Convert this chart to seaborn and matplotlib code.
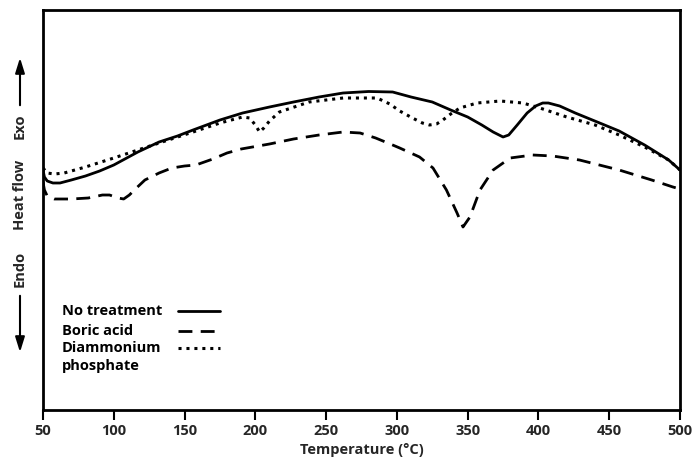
import matplotlib
matplotlib.use("Agg")
import matplotlib.pyplot as plt
import seaborn as sns
import pandas as pd
from matplotlib import font_manager

# ---- data (arbitrary heat-flow units) ----
temp_none = [50, 51, 53, 57, 62, 70, 80, 90, 100, 117, 132, 145, 156, 175, 191, 210, 227, 245, 262, 280,
             297, 310, 325, 338, 350, 360, 368, 375, 379, 385, 392, 398, 403, 407, 415, 426, 445, 457, 475, 492, 500]
flow_none = [240, 233, 229, 227, 227, 230, 234, 239, 245, 258, 268, 274, 280, 290, 297, 303, 308, 313, 317, 318.5,
             318, 313, 308, 300, 293, 285, 278, 273, 275, 285, 297, 304, 307, 307, 304, 297, 286, 279, 265, 250, 240]

temp_boric = [50, 51, 53, 58, 70, 82, 92, 97, 103, 107, 111, 116, 122, 132, 141, 150, 158, 170, 180, 190, 210,
              227, 245, 262, 274, 285, 297, 302, 316, 325.5, 335, 342.5, 346.7, 351.6, 358.7, 368, 380, 396, 410,
              429, 457, 480, 495, 500]
flow_boric = [228, 220, 214, 211, 211, 212, 215, 215, 212, 211, 215, 222, 230, 237, 242, 244, 245, 251, 257, 261, 266,
              271, 275, 278, 277, 272, 265, 262, 253, 242, 220, 197, 183, 193, 220, 240, 252, 255, 254,
              250, 240, 230, 223, 221]

temp_dap = [50, 53, 58, 65, 80, 100, 117, 132, 156, 175, 191, 196, 200, 203, 206, 210, 217, 238, 262, 286, 295,
            302, 311, 318, 323, 328, 332.5, 338, 344.5, 356.6, 373, 389, 401, 420, 440, 457, 475, 492, 500]
flow_dap = [242, 237, 236, 237, 243, 252, 260, 267, 278, 287, 293, 292, 285, 278, 282, 289, 298, 308, 312, 312, 306,
            299, 292, 287, 285, 286, 290, 296, 302, 307, 309, 307, 302, 293, 285, 275, 263, 250, 240]

series_names = ["No treatment", "Boric acid", "Diammonium\nphosphate"]
x_ticks = [50, 100, 150, 200, 250, 300, 350, 400, 450, 500]

sns.set_theme(style="white")
avail = {f.name for f in font_manager.fontManager.ttflist}
fam = "Liberation Sans Narrow" if "Liberation Sans Narrow" in avail else "Open Sans"
plt.rcParams["font.family"] = [fam, "DejaVu Sans"]

fig = plt.figure(figsize=(6.95, 4.76), dpi=100)
ax = fig.add_axes([43 / 695, 66 / 476, 637 / 695, 400 / 476])

styles = [dict(linestyle="-", linewidth=2.0),
          dict(linestyle=(0, (5, 3)), linewidth=2.0),
          dict(linestyle=(0, (1, 1.6)), linewidth=2.2)]
datasets = [(temp_none, flow_none), (temp_boric, flow_boric), (temp_dap, flow_dap)]
for (t, f), name, st in zip(datasets, series_names, styles):
    df = pd.DataFrame({"Temperature": t, "Heat flow": f})
    sns.lineplot(data=df, x="Temperature", y="Heat flow", ax=ax, color="black",
                 sort=False, estimator=None, **st)

ax.set_xlim(50, 500)
ax.set_ylim(0, 400)
ax.set_xticks(x_ticks)
ax.set_yticks([])
ax.tick_params(axis="x", direction="out", length=7, width=1.5, color="black",
               labelsize=10.5, pad=3, bottom=True)
for lab in ax.get_xticklabels():
    lab.set_fontweight("bold")
for sp in ax.spines.values():
    sp.set_color("black")
    sp.set_linewidth(2.0)
    sp.set_visible(True)
ax.set_xlabel("Temperature (°C)", fontsize=10.5, fontweight="bold", labelpad=4)
ax.set_ylabel("")

# legend: labels on the left, line samples on the right
row_py = [311, 331, 348]
for py, name, st in zip(row_py, series_names, styles):
    yy = (410 - py) / 400
    lines = name.split("\n")
    ax.text(0.03, yy, lines[0], transform=ax.transAxes, fontsize=10.5, fontweight="bold",
            va="center", ha="left", color="black")
    if len(lines) > 1:
        ax.text(0.03, yy - 18 / 400, lines[1], transform=ax.transAxes, fontsize=10.5,
                fontweight="bold", va="center", ha="left", color="black")
    ax.plot([0.212, 0.278], [yy, yy], transform=ax.transAxes, color="black", **st)

# y-axis label with arrows
def fy(py):
    return 1 - py / 476
for txt, py in [("Exo", 126), ("Heat flow", 195), ("Endo", 269)]:
    fig.text(20 / 695, fy(py), txt, rotation=90, ha="center", va="center",
             fontsize=10.5, fontweight="bold")
for start, end in [(108, 55), (293, 355)]:
    fig.patches.append(matplotlib.patches.FancyArrowPatch(
        (20 / 695, fy(start)), (20 / 695, fy(end)), transform=fig.transFigure,
        arrowstyle="-|>,head_length=0.9,head_width=0.28", mutation_scale=10,
        color="black", linewidth=1.5))

fig.savefig("out.png", dpi=100, facecolor="white")
